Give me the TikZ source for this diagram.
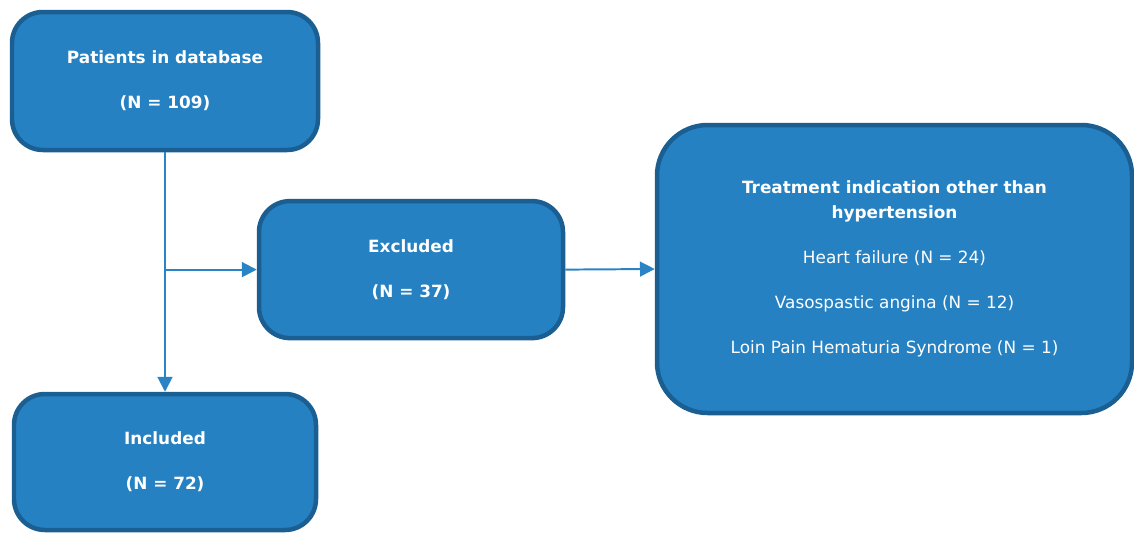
\documentclass[tikz,border=0pt]{standalone}
\usepackage{fontspec}
\setmainfont{DejaVu Sans}
\usetikzlibrary{arrows.meta, positioning}
\definecolor{boxfill}{RGB}{37,129,193}
\definecolor{boxline}{RGB}{26,94,146}
\definecolor{arrowblue}{RGB}{41,131,197}

\begin{document}
\begin{tikzpicture}[
  flowbox/.style={draw=boxline, fill=boxfill, line width=3.2pt, rounded corners=22pt,
    text=white, align=center, inner sep=0pt, font=\fontsize{12}{18}\selectfont},
  flowarrow/.style={draw=arrowblue, line width=1.4pt, -{Triangle[length=10.5pt,width=10.5pt]}}
]
 \useasboundingbox (0,0) rectangle (28.35,-13.3);
 \node [flowbox, minimum width=7.65cm, minimum height=3.45cm] (patients) at (4.125,-2.025)
   {\textbf{Patients in database}\\[14pt]\textbf{(N = 109)}};
 \node [flowbox, minimum width=7.6cm, minimum height=3.425cm] (excluded) at (10.275,-6.74)
   {\textbf{Excluded}\\[14pt]\textbf{(N = 37)}};
 \node [flowbox, rounded corners=36pt, minimum width=11.875cm, minimum height=7.2cm] (indication) at (22.3625,-6.725)
   {\textbf{Treatment indication other than}\\\textbf{hypertension}\\[14pt]
    Heart failure (N = 24)\\[14pt]Vasospastic angina (N = 12)\\[14pt]Loin Pain Hematuria Syndrome (N = 1)};
 \node [flowbox, minimum width=7.55cm, minimum height=3.4cm] (included) at (4.125,-11.55)
   {\textbf{Included}\\[14pt]\textbf{(N = 72)}};
 \coordinate (split) at (patients.south |- excluded.west);
 \draw [flowarrow] (patients.south) -- (included.north);
 \draw [flowarrow] (split) -- (excluded.west);
 \draw [flowarrow] (excluded.east) -- (indication.west);
\end{tikzpicture}
\end{document}
